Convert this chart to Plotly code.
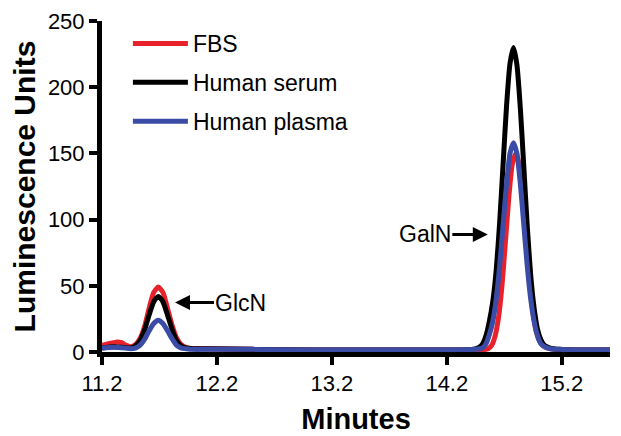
import plotly.graph_objects as go

# ---- data ----
fbs_t = [11.2, 11.25, 11.3, 11.33, 11.37, 11.41, 11.45, 11.49, 11.53, 11.57, 11.61, 11.65, 11.69,
         11.73, 11.77, 11.81, 11.85, 11.89, 11.93, 12.0, 12.1, 12.5, 13.0, 13.5, 14.0, 14.3,
         14.5, 14.56, 14.59, 14.62, 14.65, 14.68, 14.71, 14.74, 14.77, 14.8, 14.83, 14.86,
         14.89, 14.92, 14.95, 14.98, 15.01, 15.05, 15.1, 15.18, 15.3, 15.62]
fbs_v = [5, 6, 7, 7.5, 7, 5, 4, 5.5, 10, 19, 33, 45, 49,
         45, 33, 20, 10.5, 5.5, 3.5, 2.5, 2.5, 2, 1.5, 1.5, 1.5, 1.5,
         1.5, 2.5, 5, 12, 26, 50, 83, 117, 142, 150, 142, 117,
         83, 52, 30, 15, 8, 4, 2.5, 1.5, 1.5, 1.5]

serum_t = [11.2, 11.3, 11.4, 11.45, 11.49, 11.53, 11.57, 11.61, 11.65, 11.69, 11.73, 11.77,
           11.81, 11.85, 11.89, 11.93, 12.0, 12.1, 12.5, 13.0, 13.5, 14.0, 14.3, 14.42, 14.48,
           14.51, 14.54, 14.57, 14.6, 14.63, 14.66, 14.69, 14.72, 14.75, 14.78, 14.81, 14.84,
           14.87, 14.9, 14.93, 14.96, 14.99, 15.02, 15.05, 15.1, 15.18, 15.3, 15.62]
serum_v = [3, 4, 3.5, 3, 4.5, 8.5, 16.5, 28, 38, 42, 38, 28,
           17, 8.5, 4.5, 3, 2.5, 2.5, 2, 1.5, 1.5, 1.5, 1.5, 2, 3.5,
           6, 12, 23, 38, 62, 98, 142, 186, 218, 230, 217, 184,
           140, 95, 58, 33, 17, 9, 5, 3, 2, 1.5, 1.5]

plasma_t = [11.2, 11.3, 11.4, 11.45, 11.49, 11.53, 11.57, 11.61, 11.65, 11.69, 11.73, 11.77,
            11.81, 11.85, 11.89, 11.93, 12.0, 12.1, 12.5, 13.0, 13.5, 14.0, 14.3, 14.45, 14.51,
            14.54, 14.57, 14.6, 14.63, 14.66, 14.69, 14.72, 14.75, 14.78, 14.81, 14.84, 14.87,
            14.9, 14.93, 14.96, 14.99, 15.02, 15.05, 15.1, 15.18, 15.3, 15.62]
plasma_v = [3, 3.5, 3, 2.5, 3, 5, 9.5, 16, 21.5, 24, 21.5, 16,
            10, 5, 3, 2.5, 2, 2, 2, 1.5, 1.5, 1.5, 1.5, 2, 3,
            6, 13, 23, 40, 65, 96, 127, 150, 158, 150, 127, 96,
            65, 40, 23, 12, 6, 4, 2.5, 2, 1.5, 1.5]

series_names = ["FBS", "Human serum", "Human plasma"]
x_ticks = [11.2, 12.2, 13.2, 14.2, 15.2]
y_ticks = [0, 50, 100, 150, 200, 250]

FONT = "Arial, Liberation Sans, sans-serif"
colors = ["#E8212B", "#000000", "#3B4CA6"]

fig = go.Figure()
for name, t, v, c in zip(series_names, [fbs_t, serum_t, plasma_t],
                         [fbs_v, serum_v, plasma_v], colors):
    fig.add_trace(go.Scatter(x=t, y=v, mode="lines", name=name, legendgroup=name,
                             line=dict(color=c, width=5, shape="spline", smoothing=0.6)))

fig.add_annotation(x=11.835, y=37.3, ax=66, ay=0, text="GlcN", showarrow=True,
                   arrowhead=2, arrowsize=1, arrowwidth=3, arrowcolor="black",
                   font=dict(family=FONT, size=23, color="black"))
fig.add_annotation(x=14.557, y=88.8, ax=-63, ay=0, text="GalN", showarrow=True,
                   arrowhead=2, arrowsize=1, arrowwidth=3, arrowcolor="black",
                   font=dict(family=FONT, size=23, color="black"))

# the page body has an 8px default margin, so the figure is sized/offset to fit the window
fig.update_layout(
    width=613, height=428,
    margin=dict(l=94, r=11, t=13, b=84, autoexpand=False),
    plot_bgcolor="white", paper_bgcolor="white",
    font=dict(family=FONT, color="black"),
    showlegend=True,
    legend=dict(x=0.051, y=0.997, xanchor="left", yanchor="top",
                bgcolor="rgba(0,0,0,0)", font=dict(family=FONT, size=23),
                tracegroupgap=6, itemwidth=55),
    xaxis=dict(range=[11.2, 15.62], tickvals=x_ticks, ticktext=[f"{v:.1f}" for v in x_ticks],
               automargin=False, ticklabeloverflow="allow",
               showline=True, linewidth=5, linecolor="black", showgrid=False, zeroline=False,
               ticks="outside", ticklen=8, tickwidth=4, tickcolor="black",
               tickfont=dict(family=FONT, size=22),
               title=dict(text="<b>Minutes</b>", font=dict(family=FONT, size=29))),
    yaxis=dict(range=[0, 250], tickvals=y_ticks, automargin=False, ticklabeloverflow="allow",
               showline=True, linewidth=5, linecolor="black", showgrid=False, zeroline=False,
               ticks="outside", ticklen=8, tickwidth=4, tickcolor="black",
               tickfont=dict(family=FONT, size=22),
               title=dict(text="<b>Luminescence Units</b>", font=dict(family=FONT, size=30))),
)

fig.write_html("out.html")
